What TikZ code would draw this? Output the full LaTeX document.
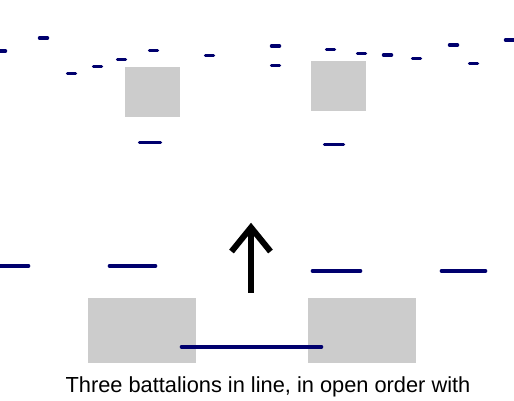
\documentclass[tikz,border=0pt]{standalone}
\usepackage{fontspec}
\setmainfont{Liberation Sans}
\usepackage{tikz}
\usetikzlibrary{arrows.meta, positioning}

\definecolor{troopblue}{RGB}{0,0,110}
\definecolor{battgray}{RGB}{204,204,204}

\tikzset{
  skirm/.style={draw=troopblue, line width=3.5, line cap=round},
  battline/.style={draw=troopblue, line width=3.6, line cap=round},
  batt/.style={fill=battgray, draw=none},
}

\begin{document}
\begin{tikzpicture}[x=1pt, y=-1pt]
  \useasboundingbox (0,0) rectangle (514,400);

  % skirmishers out in front
  \foreach \xa/\xb/\yy in {-4/5.5/51, 39.5/47.5/38, 67.5/75.5/73.3, 93.5/101.5/66.3,
        117.5/125.5/59.3, 149.5/157.5/50.3, 205.5/213.5/55.7, 271.5/279.5/46,
        271.5/279.5/65.3, 326.5/334.5/49.3, 357.5/365.5/53.3, 383.5/391.5/55,
        412.5/420.5/58.3, 449.5/457.5/45, 469.5/477.5/63.7, 505.5/516/40}
    \draw[skirm] (\xa,\yy) -- (\xb,\yy);

  % supports in column
  \fill[batt] (125,66.7) rectangle (180,117);
  \fill[batt] (311,60.7) rectangle (366,110.7);
  \draw[skirm] (139.5,142.7) -- (160.5,142.7);
  \draw[skirm] (324.5,144.7) -- (343.5,144.7);

  % direction of advance
  \draw[line width=5.5] (251,292.5) -- (251,228);
  \draw[line width=6, line join=miter] (231.5,251.5) -- (251,227.5) -- (270.5,251.5);

  % main line
  \foreach \xa/\xb/\yy in {-4/28.5/266, 109.5/155.5/266, 312.5/360.5/271, 441.5/485.5/271}
    \draw[battline] (\xa,\yy) -- (\xb,\yy);
  \fill[batt] (88,298) rectangle (196,363);
  \fill[batt] (308,298) rectangle (416,363);
  \draw[battline] (181.5,346.7) -- (321.5,346.7);

  \node[anchor=base, font=\fontsize{21.8}{25}\selectfont, inner sep=0] (caption)
    at (268,392.5) {Three battalions in line, in open order with};
\end{tikzpicture}
\end{document}
